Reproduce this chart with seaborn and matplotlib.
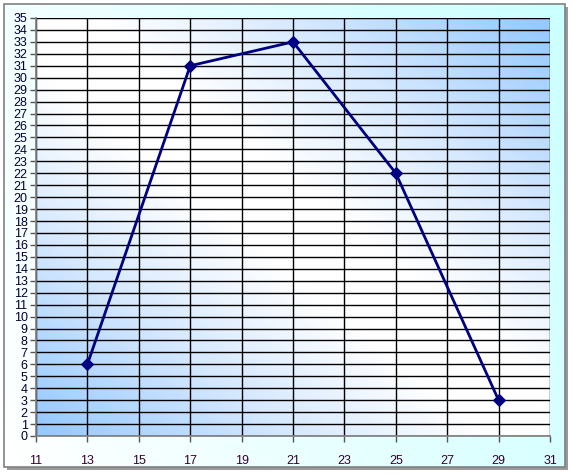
import numpy as np
import pandas as pd
import matplotlib
matplotlib.use("Agg")
import matplotlib.pyplot as plt
from matplotlib.colors import LinearSegmentedColormap
from matplotlib.patches import Rectangle
import seaborn as sns

# data
x_vals = [13, 17, 21, 25, 29]
y_vals = [6, 31, 33, 22, 3]
x_ticks = list(range(11, 32, 2))
y_ticks = list(range(0, 36))

df = pd.DataFrame({"x": x_vals, "y": y_vals})

sns.set_theme(style="white")
plt.rcParams['font.family'] = ['Liberation Sans', 'DejaVu Sans']

W, H = 572, 474
fig = plt.figure(figsize=(W / 100, H / 100), dpi=100)
fig.patch.set_facecolor("white")

# outer chart box with shadow and light cyan gradient
bg = fig.add_axes([0, 0, 1, 1], zorder=-10)
bg.set_xlim(0, W)
bg.set_ylim(H, 0)
bg.axis("off")
bg.add_patch(Rectangle((7, 7), 561, 463, facecolor="#9a9a9a", edgecolor="none"))
gx, gy = np.meshgrid(np.linspace(0, 1, 200), np.linspace(0, 1, 200))
outer = np.clip(0.75 * gx + 0.25 * (1 - gy), 0, 1)
cyan = LinearSegmentedColormap.from_list("cy", ["#ffffff", "#ccffff"])
bg.imshow(outer, extent=(4, 565, 467, 4), cmap=cyan, aspect="auto", zorder=1)
bg.add_patch(Rectangle((4, 4), 561, 463, facecolor="none", edgecolor="#808080", lw=1.2, zorder=2))

ax = fig.add_axes([36 / W, 1 - 436 / H, (550 - 36) / W, (436 - 18) / H])
ax.set_xlim(11, 31)
ax.set_ylim(0, 35)

# diagonal blue-white-blue gradient for the plot area
u, v = np.meshgrid(np.linspace(0, 1, 300), np.linspace(1, 0, 300))
t = np.abs((u + v) - 1.0)
blue = LinearSegmentedColormap.from_list(
    "bl", [(0, "#ffffff"), (0.12, "#ffffff"), (0.5, "#d6e9ff"), (1, "#94c8ff")])
ax.imshow(t, extent=(11, 31, 0, 35), cmap=blue, aspect="auto", zorder=0, vmin=0, vmax=1)

ax.set_xticks(x_ticks)
ax.set_yticks(y_ticks)
ax.grid(True, color="black", lw=1.0)
ax.set_axisbelow(True)
for sp in ax.spines.values():
    sp.set_visible(False)
ax.spines["left"].set_visible(True)
ax.spines["left"].set_color("#808080")
ax.spines["bottom"].set_visible(True)
ax.spines["bottom"].set_color("#808080")

sns.lineplot(data=df, x="x", y="y", ax=ax, color="#000080", lw=2,
             marker="D", markersize=6, markeredgecolor="#000080", zorder=5)

ax.tick_params(axis="both", direction="out", length=4, width=1, color="#555555",
               labelsize=9, bottom=True, left=True)
ax.tick_params(axis="x", pad=10, labelcolor="#330033")
ax.tick_params(axis="y", pad=2, labelcolor="#000033")
ax.set_xlabel("")
ax.set_ylabel("")

fig.savefig("out.png", dpi=100)
